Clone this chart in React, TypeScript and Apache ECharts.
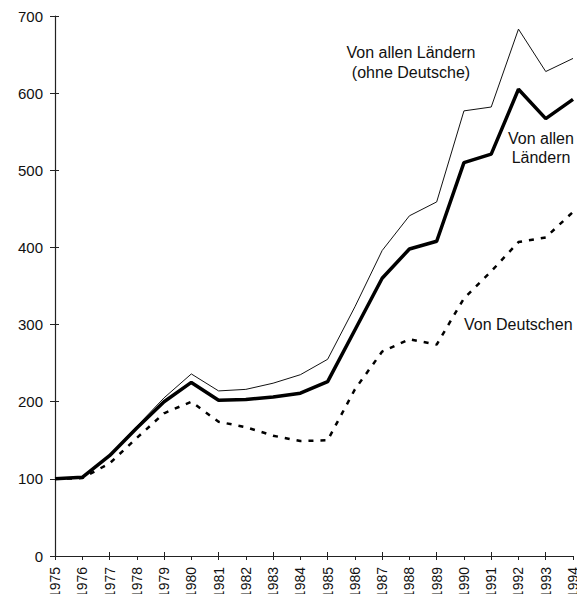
import React, { useEffect, useRef } from "react";
import * as echarts from "echarts";

const years = ["1975","1976","1977","1978","1979","1980","1981","1982","1983","1984","1985","1986","1987","1988","1989","1990","1991","1992","1993","1994"];
const ohneDeutsche = [100, 103, 131, 168, 205, 236, 214, 216, 224, 235, 255, 323, 396, 441, 459, 577, 582, 683, 628, 645];
const alleLaender = [100, 102, 130, 166, 200, 225, 202, 203, 206, 211, 226, 293, 360, 398, 408, 510, 521, 605, 567, 592];
const vonDeutschen = [100, 101, 120, 153, 185, 200, 174, 167, 156, 149, 150, 216, 265, 281, 274, 334, 369, 407, 413, 446];
const yTicks = { min: 0, max: 700, interval: 100 };

const FONT = "'Liberation Sans', Arial, sans-serif";

export default function App() {
  const ref = useRef<HTMLDivElement>(null);
  useEffect(() => {
    if (!ref.current) return;
    const chart = echarts.init(ref.current, null, { renderer: "svg" });
    const axisColor = "#222";
    chart.setOption({
      animation: false,
      backgroundColor: "#fff",
      grid: { left: 55, right: 12, top: 16, bottom: 46, containLabel: false },
      xAxis: [
        {
          type: "category",
          data: years,
          boundaryGap: false,
          axisLine: { lineStyle: { color: axisColor, width: 1.2 } },
          axisTick: { show: true, length: 4, lineStyle: { color: axisColor } },
          axisLabel: { rotate: 90, color: "#111", fontFamily: FONT, fontSize: 14, margin: 11 },
          splitLine: { show: false },
        },
        {
          type: "category",
          data: years,
          boundaryGap: false,
          position: "bottom",
          axisLine: { show: false },
          axisTick: { show: true, inside: true, length: 4, lineStyle: { color: axisColor } },
          axisLabel: { show: false },
          splitLine: { show: false },
        },
      ],
      yAxis: [
        {
          type: "value",
          min: yTicks.min,
          max: yTicks.max,
          interval: yTicks.interval,
          axisLine: { show: true, lineStyle: { color: axisColor, width: 1.2 } },
          axisTick: { show: true, length: 5, lineStyle: { color: axisColor } },
          axisLabel: { color: "#111", fontFamily: FONT, fontSize: 15, margin: 12 },
          splitLine: { show: false },
        },
        {
          type: "value",
          min: yTicks.min,
          max: yTicks.max,
          interval: yTicks.interval,
          position: "left",
          axisLine: { show: false },
          axisTick: { show: true, inside: true, length: 4, lineStyle: { color: axisColor } },
          axisLabel: { show: false },
          splitLine: { show: false },
        },
      ],
      series: [
        {
          name: "Von allen Ländern (ohne Deutsche)",
          type: "line",
          data: ohneDeutsche,
          symbol: "none",
          lineStyle: { color: "#111", width: 1 },
          z: 3,
        },
        {
          name: "Von allen Ländern",
          type: "line",
          data: alleLaender,
          symbol: "none",
          lineStyle: { color: "#000", width: 3.5 },
          z: 4,
        },
        {
          name: "Von Deutschen",
          type: "line",
          data: vonDeutschen,
          symbol: "none",
          lineStyle: { color: "#000", width: 2.5, type: [5, 7] },
          z: 2,
        },
      ],
      graphic: [
        {
          type: "text",
          x: 411,
          y: 42,
          style: {
            text: "Von allen Ländern\n(ohne Deutsche)",
            fontFamily: FONT,
            fontSize: 16,
            fill: "#111",
            align: "center",
            verticalAlign: "top",
            lineHeight: 20,
          },
        },
        {
          type: "text",
          x: 541,
          y: 129,
          style: {
            text: "Von allen\nLändern",
            fontFamily: FONT,
            fontSize: 16,
            fill: "#111",
            align: "center",
            verticalAlign: "top",
            lineHeight: 19,
          },
        },
        {
          type: "text",
          x: 464,
          y: 316,
          style: {
            text: "Von Deutschen",
            fontFamily: FONT,
            fontSize: 16,
            fill: "#111",
            verticalAlign: "top",
            lineHeight: 16,
          },
        },
      ],
    });
    return () => chart.dispose();
  }, []);
  return <div ref={ref} style={{ width: 585, height: 602, margin: -8 }} />;
}
